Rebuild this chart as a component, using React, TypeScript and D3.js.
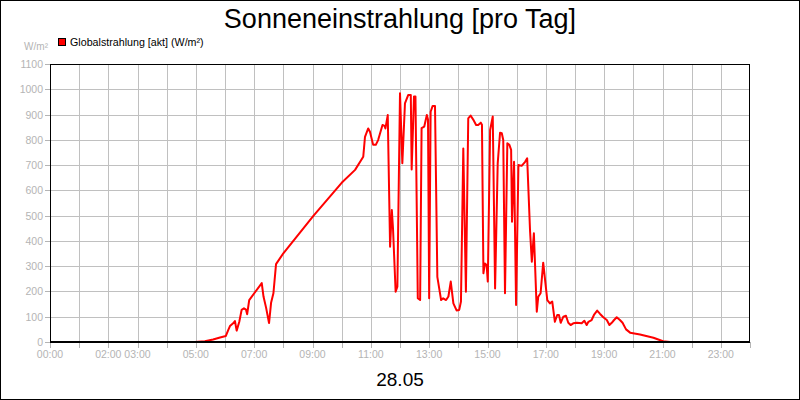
import * as d3 from "d3";

document.body.style.margin = "0";

// Globalstrahlung 28.05 – Stunden (dezimal) und W/m²
const hours = [
  0, 4.97, 5.31, 5.59, 5.83, 6.03, 6.11, 6.17, 6.28, 6.34, 6.4, 6.49, 6.57, 6.65, 6.72, 6.76, 6.83,
  7.26, 7.32, 7.41, 7.51, 7.58, 7.66, 7.75, 8.0, 9.03, 10.0, 10.46, 10.74, 10.8, 10.91, 10.97,
  11.08, 11.17, 11.25, 11.4, 11.47, 11.5, 11.58, 11.66, 11.72, 11.76, 11.85, 11.91, 12.0, 12.08, 12.17, 12.28,
  12.37, 12.4, 12.48, 12.53, 12.61, 12.69, 12.74, 12.83, 12.92, 12.96, 13.0, 13.05, 13.12, 13.2, 13.28,
  13.41, 13.48, 13.58, 13.66, 13.74, 13.83, 13.94, 14.03, 14.09, 14.17, 14.26, 14.34, 14.42, 14.51,
  14.61, 14.68, 14.77, 14.81, 14.86, 14.91, 14.97, 15.01, 15.09, 15.18, 15.26, 15.35, 15.43, 15.49,
  15.54, 15.6, 15.68, 15.75, 15.81, 15.84, 15.91, 15.98, 16.06, 16.17, 16.29, 16.36, 16.46, 16.52,
  16.59, 16.69, 16.74, 16.82, 16.91, 16.97, 17.05, 17.14, 17.22, 17.31, 17.39, 17.45, 17.51, 17.6,
  17.69, 17.77, 17.85, 17.94, 18.06, 18.23, 18.32, 18.4, 18.46, 18.57, 18.65, 18.76, 18.86, 18.97,
  19.09, 19.18, 19.26, 19.34, 19.43, 19.54, 19.63, 19.75, 19.89, 20.23, 20.69, 21.02, 21.26, 24,
];
const radiation = [
  0, 0, 3, 10, 18, 24, 47, 63, 74, 83, 45, 80, 127, 133, 128, 110, 166,
  233, 180, 135, 75, 155, 193, 308, 351, 499, 630, 681, 733, 812, 845, 832,
  780, 780, 799, 859, 855, 845, 898, 377, 522, 450, 199, 219, 984, 707, 944, 977,
  977, 683, 971, 971, 173, 166, 846, 852, 898, 880, 173, 911, 934, 934, 258,
  166, 173, 166, 180, 239, 153, 125, 127, 160, 766, 199, 885, 896, 880,
  859, 859, 868, 860, 272, 311, 305, 239, 839, 892, 212, 707, 828, 826,
  799, 193, 786, 780, 760, 476, 713, 146, 700, 697, 713, 727, 437, 318,
  430, 120, 179, 193, 314, 250, 166, 153, 160, 80, 107, 107, 76, 100,
  104, 76, 67, 74, 76, 74, 84, 67, 80, 87, 107, 124, 111, 98,
  87, 67, 76, 87, 98, 87, 76, 50, 37, 30, 17, 3, 0, 0,
];
const hourLabels = [0, 2, 3, 5, 7, 9, 11, 13, 15, 17, 19, 21, 23];
const yTicks = d3.range(0, 1101, 100);

const W = 800;
const H = 400;
const m = { top: 64, right: 50, bottom: 58, left: 50 };
const font = "'Liberation Sans', Arial, sans-serif";

export default function App() {
  const x = d3.scaleLinear().domain([0, 24]).range([m.left, W - m.right]);
  const y = d3.scaleLinear().domain([0, 1100]).range([H - m.bottom, m.top]);
  const line = d3
    .line<number>()
    .x((_, i) => x(hours[i]))
    .y((d) => y(d));
  const gridHours = d3.range(1, 24);

  return (
    <svg width={W} height={H} style={{ display: "block", fontFamily: font }}>
      <rect x={0.5} y={0.5} width={W - 1} height={H - 1} fill="#fff" stroke="#000" />
      <text x={400} y={28} textAnchor="middle" fontSize={27} fill="#000">
        Sonneneinstrahlung [pro Tag]
      </text>

      {/* legend */}
      <text x={48} y={50} textAnchor="end" fontSize={10} fill="#b4b4b4">W/m²</text>
      <rect x={58.5} y={38.5} width={7} height={7} fill="#ff0000" stroke="#000" strokeWidth={1} />
      <text x={70} y={46} fontSize={10.7} fill="#000">Globalstrahlung [akt] (W/m²)</text>

      {/* grid */}
      {gridHours.map((h) => (
        <line key={"v" + h} x1={Math.round(x(h)) + 0.5} x2={Math.round(x(h)) + 0.5} y1={m.top} y2={H - m.bottom} stroke="#c0c0c0" />
      ))}
      {yTicks.slice(1, -1).map((v) => (
        <line key={"h" + v} x1={m.left} x2={W - m.right} y1={Math.round(y(v)) + 0.5} y2={Math.round(y(v)) + 0.5} stroke="#c0c0c0" />
      ))}

      {/* ticks + labels */}
      {yTicks.map((v) => (
        <g key={"yt" + v}>
          <line x1={m.left - 5} x2={m.left} y1={Math.round(y(v)) + 0.5} y2={Math.round(y(v)) + 0.5} stroke="#b4b4b4" />
          <text x={43} y={y(v) + 4} textAnchor="end" fontSize={10.5} fill="#b4b4b4">{v}</text>
        </g>
      ))}
      {d3.range(0, 25).map((h) => (
        <line key={"xt" + h} x1={Math.round(x(h)) + 0.5} x2={Math.round(x(h)) + 0.5} y1={H - m.bottom} y2={H - m.bottom + 6} stroke="#b4b4b4" />
      ))}
      {hourLabels.map((h) => (
        <text key={"xl" + h} x={x(h)} y={358} textAnchor="middle" fontSize={10.5} fill="#b4b4b4">
          {String(h).padStart(2, "0") + ":00"}
        </text>
      ))}

      <path d={line(radiation) ?? ""} fill="none" stroke="#ff0000" strokeWidth={2} strokeLinejoin="round" />

      {/* plot frame */}
      <rect x={m.left + 0.5} y={m.top + 0.5} width={W - m.left - m.right - 1} height={H - m.top - m.bottom - 1} fill="none" stroke="#000" />
      <line x1={m.left} x2={W - m.right} y1={H - m.bottom} y2={H - m.bottom} stroke="#000" strokeWidth={2} />

      <text x={400} y={386} textAnchor="middle" fontSize={19} fill="#000">28.05</text>
    </svg>
  );
}
